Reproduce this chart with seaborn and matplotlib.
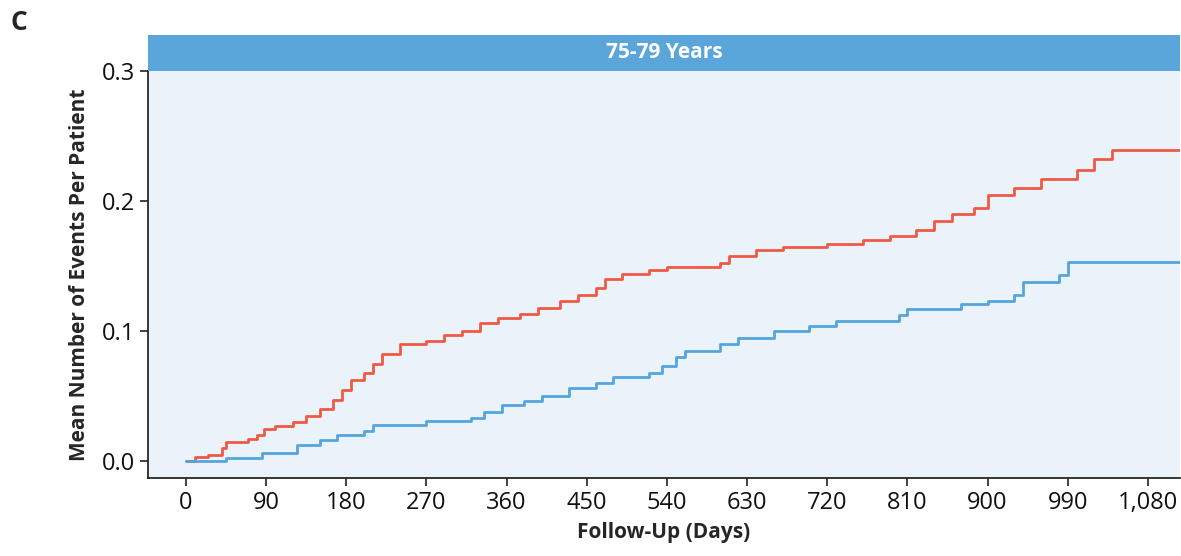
import numpy as np
import pandas as pd
import matplotlib.pyplot as plt
import seaborn as sns

# step curves
red_days = [0, 10, 25, 40, 45, 70, 80, 88, 100, 120, 135, 150, 165, 175, 185, 200, 210, 220, 240,
            270, 290, 310, 330, 350, 375, 395, 420, 440, 460, 470, 490, 520, 540, 600, 610, 640,
            670, 720, 760, 790, 820, 840, 860, 885, 900, 930, 960, 1000, 1020, 1040, 1116]
red_vals = [0, 0.003, 0.005, 0.01, 0.015, 0.017, 0.02, 0.025, 0.027, 0.03, 0.035, 0.04, 0.047,
            0.055, 0.062, 0.068, 0.075, 0.082, 0.09, 0.092, 0.097, 0.1, 0.106, 0.11, 0.113, 0.118,
            0.123, 0.128, 0.133, 0.14, 0.144, 0.147, 0.149, 0.152, 0.158, 0.162, 0.165, 0.167,
            0.17, 0.173, 0.178, 0.185, 0.19, 0.195, 0.205, 0.21, 0.217, 0.224, 0.232, 0.239, 0.239]
blue_days = [0, 45, 85, 125, 150, 170, 200, 210, 270, 320, 335, 355, 380, 400, 430, 460, 480,
             520, 535, 550, 560, 600, 620, 660, 700, 730, 800, 810, 870, 900, 930, 940, 980, 990, 1116]
blue_vals = [0, 0.002, 0.006, 0.012, 0.016, 0.02, 0.023, 0.028, 0.031, 0.033, 0.038, 0.043,
             0.046, 0.05, 0.056, 0.06, 0.065, 0.068, 0.073, 0.08, 0.085, 0.09, 0.095, 0.1, 0.104,
             0.108, 0.112, 0.117, 0.121, 0.123, 0.128, 0.138, 0.143, 0.153, 0.153]

x_ticks = list(range(0, 1081, 90))
x_labels = [f"{t:,}" for t in x_ticks]

sns.set_style("ticks")
plt.rcParams['font.family'] = ['Open Sans', 'DejaVu Sans']

fig = plt.figure(figsize=[11.81, 5.56], dpi=100)
ax = fig.add_axes([148 / 1181, 1 - 478 / 556, 1032 / 1181, 407 / 556])
ax.set_facecolor('#EAF2FA')

df_red = pd.DataFrame({'day': red_days, 'val': red_vals})
df_blue = pd.DataFrame({'day': blue_days, 'val': blue_vals})
sns.lineplot(data=df_red, x='day', y='val', ax=ax, color='#EE5A45', lw=2, drawstyle='steps-post')
sns.lineplot(data=df_blue, x='day', y='val', ax=ax, color='#55A5DC', lw=2, drawstyle='steps-post')

ax.set_xlim(-42.6, 1116)
ax.set_ylim(-0.013, 0.3)
ax.set_xticks(x_ticks)
ax.set_xticklabels(x_labels, fontsize=17)
ax.set_yticks([0, 0.1, 0.2, 0.3])
ax.set_yticklabels(['0.0', '0.1', '0.2', '0.3'], fontsize=17)
ax.tick_params(length=6, width=1.2, color='#222222', labelcolor='#111111')
for side in ['left', 'bottom']:
    ax.spines[side].set_linewidth(1.3)
sns.despine(ax=ax)
ax.set_xlabel('Follow-Up (Days)', fontsize=15, fontweight='bold', labelpad=5)
ax.set_ylabel('Mean Number of Events Per Patient', fontsize=15, fontweight='bold', labelpad=8)

# header strip
hdr = fig.add_axes([148 / 1181, 1 - 71 / 556, 1032 / 1181, 36 / 556])
hdr.set_facecolor('#5AA5DA')
hdr.set_xticks([]); hdr.set_yticks([])
for s in hdr.spines.values():
    s.set_visible(False)
hdr.text(0.5, 0.5, '75-79 Years', color='white', fontsize=15, fontweight='bold',
         ha='center', va='center', transform=hdr.transAxes)

fig.text(10 / 1181, 1 - 22 / 556, 'C', fontsize=19, fontweight='bold', va='center')

fig.savefig('out.png', dpi=100)
